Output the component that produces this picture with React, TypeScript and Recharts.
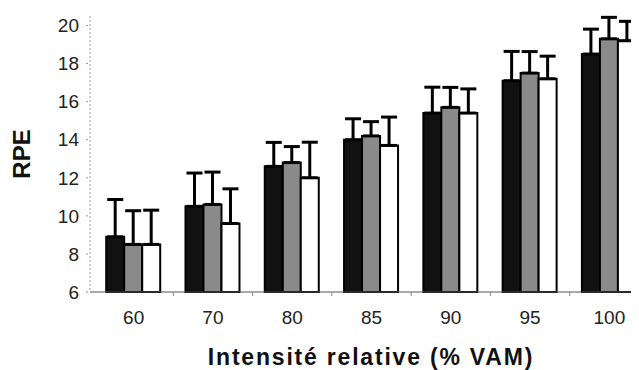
import { BarChart, Bar, XAxis, YAxis, ErrorBar } from "recharts";

const categories = ["60", "70", "80", "85", "90", "95", "100"];
const blackValues = [8.9, 10.5, 12.6, 14.0, 15.4, 17.1, 18.5];
const grayValues = [8.5, 10.6, 12.8, 14.2, 15.7, 17.5, 19.3];
const whiteValues = [8.5, 9.6, 12.0, 13.7, 15.4, 17.2, 19.2];
const blackErrors = [1.96, 1.75, 1.26, 1.1, 1.36, 1.54, 1.31];
const grayErrors = [1.77, 1.7, 0.84, 0.75, 1.05, 1.13, 1.13];
const whiteErrors = [1.8, 1.82, 1.87, 1.49, 1.27, 1.19, 1.02];
const yTicks = [6, 8, 10, 12, 14, 16, 18, 20];

// errors only go up, so lower part is 0
const data = categories.map((name, i) => ({
  name,
  black: blackValues[i],
  gray: grayValues[i],
  white: whiteValues[i],
  blackErr: [0, blackErrors[i]],
  grayErr: [0, grayErrors[i]],
  whiteErr: [0, whiteErrors[i]],
}));

const font = "'Liberation Sans', Arial, sans-serif";

function CategoryTick(props: any) {
  const { x, y, payload } = props;
  const half = payload.offset || 0;
  return (
    <g>
      {payload.index > 0 && (
        <line x1={x - half} y1={y - 8} x2={x - half} y2={y - 4} stroke="#888" strokeWidth={1} />
      )}
      <text x={x} y={y + 24} textAnchor="middle" fontSize={19} fill="#222" fontFamily={font}>
        {payload.value}
      </text>
    </g>
  );
}

function YLabel() {
  return (
    <text
      x={13}
      y={146}
      transform="rotate(-90 13 146)"
      textAnchor="middle"
      dominantBaseline="central"
      fontSize={24}
      fontWeight="bold"
      fill="#111"
      fontFamily={font}
    >
      RPE
    </text>
  );
}

function XLabel() {
  return (
    <text
      x={363}
      y={357}
      textAnchor="middle"
      fontSize={23}
      fontWeight="bold"
      letterSpacing={1.8}
      fill="#111"
      fontFamily={font}
    >
      Intensité relative (% VAM)
    </text>
  );
}

export default function App() {
  return (
    <div style={{ width: 631, height: 362, overflow: "hidden" }}>
      <BarChart
        width={641}
        height={362}
        data={data}
        margin={{ top: 8, right: 0, left: 0, bottom: 0 }}
        barCategoryGap={12.2}
        barGap={0}
      >
        <XAxis
          dataKey="name"
          height={78}
          stroke="#555"
          tickLine={false}
          padding={{ left: 4, right: 0 }}
          tick={<CategoryTick />}
          label={<XLabel />}
        />
        <YAxis
          width={82}
          domain={[6, 20.5]}
          ticks={yTicks}
          tickSize={4}
          tickMargin={7}
          stroke="#999"
          strokeDasharray="2 2"
          tick={{ fontSize: 19, fill: "#222", fontFamily: font }}
          label={<YLabel />}
        />
        <Bar dataKey="black" fill="#111" stroke="#000" strokeWidth={2} isAnimationActive={false}>
          <ErrorBar dataKey="blackErr" direction="y" width={8} stroke="#000" strokeWidth={3} />
        </Bar>
        <Bar dataKey="gray" fill="#8a8a8a" stroke="#000" strokeWidth={2} isAnimationActive={false}>
          <ErrorBar dataKey="grayErr" direction="y" width={8} stroke="#000" strokeWidth={3} />
        </Bar>
        <Bar dataKey="white" fill="#fff" stroke="#000" strokeWidth={2} isAnimationActive={false}>
          <ErrorBar dataKey="whiteErr" direction="y" width={8} stroke="#000" strokeWidth={3} />
        </Bar>
      </BarChart>
    </div>
  );
}
